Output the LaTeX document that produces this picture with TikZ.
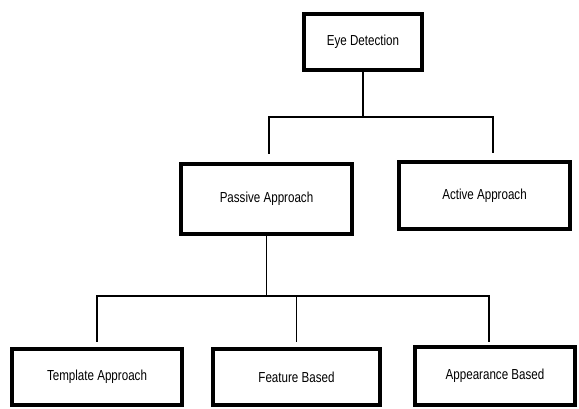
\documentclass[tikz,border=0pt]{standalone}
\usepackage{fontspec}
\usepackage{graphicx}
\setmainfont{Liberation Sans}
\usetikzlibrary{positioning, calc}
\newcommand{\talltext}[1]{\scalebox{1}[1.25]{#1}} % narrow, tall lettering as in the scan
\tikzset{box/.style={ % Sets the properties for each box
            draw,
            line width=3pt,
            fill=white,
            inner sep=0pt,
            font=\fontsize{8.7pt}{10pt}\selectfont},
        link/.style={ % Sets the properties for each connector
            draw,
            line width=1.2pt}
        }

\begin{document}
\begin{tikzpicture}[x=0.75pt, y=-0.75pt]
    \useasboundingbox (0,0) rectangle (579,408);

    \node[box, minimum width=88.5pt, minimum height=42pt] (eye) at (363,42) {\talltext{Eye Detection}};
    \node[box, minimum width=128.25pt, minimum height=52.5pt] (passive) at (266.5,199) {\talltext{Passive Approach}};
    \node[box, minimum width=128.25pt, minimum height=50.25pt] (active) at (484.5,195.5) {\talltext{Active Approach}};
    \node[box, minimum width=127.5pt, minimum height=42pt] (template) at (97,377) {\talltext{Template Approach}};
    \node[box, minimum width=125.25pt, minimum height=42pt] (feature) at (296.5,377) {\talltext{Feature Based}};
    \node[box, minimum width=120pt, minimum height=43.5pt] (appearance) at (495,376) {\talltext{Appearance Based}};

    \coordinate (split1) at (eye.south |- 0,117);
    \coordinate (split2) at (passive.south |- 0,296);

    \draw[link] (eye.south) -- (split1);
    \draw[link, shorten >=6pt] (split1) -| ([xshift=2pt]passive.north);
    \draw[link, shorten >=5pt] (split1) -| ([xshift=6.5pt]active.north);

    \draw[link] (passive.south) -- (split2);
    \draw[link, shorten >=3.5pt] (split2) -| (template.north);
    \draw[link, shorten >=3.5pt] (split2) -| (feature.north);
    \draw[link, shorten >=2.5pt] (split2) -| ([xshift=-4.5pt]appearance.north);
\end{tikzpicture}
\end{document}
